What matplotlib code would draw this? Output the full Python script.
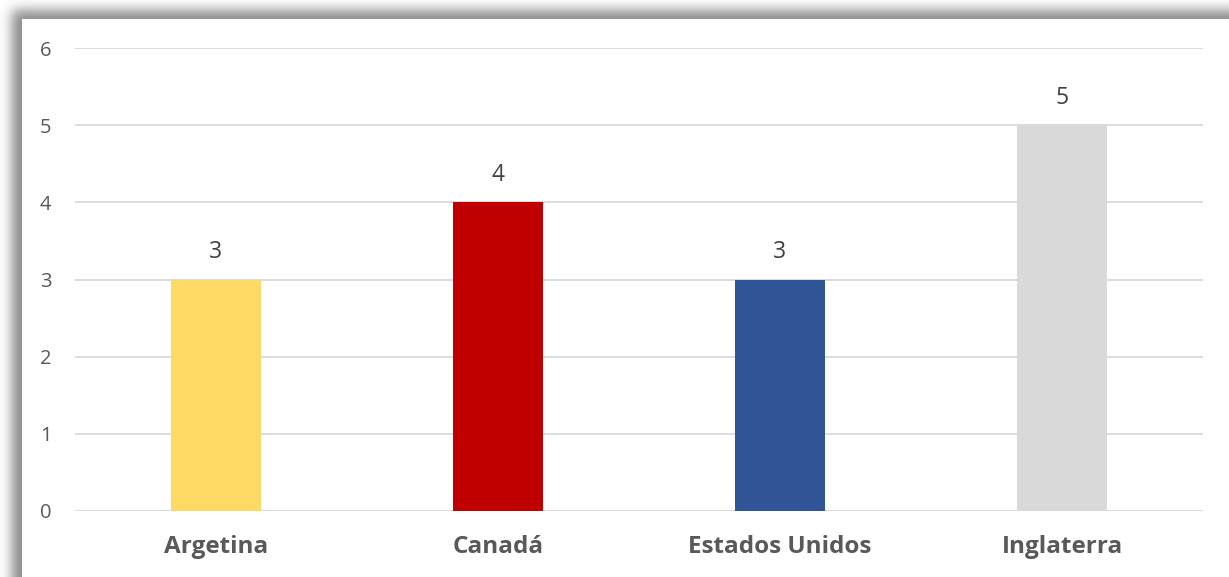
import matplotlib.pyplot as plt
import numpy as np

categories = ["Argetina", "Canadá", "Estados Unidos", "Inglaterra"]
values = [3, 4, 3, 5]
colors = ["#FFD966", "#C00000", "#2F5597", "#D9D9D9"]

plt.rcParams['font.family'] = ['Open Sans', 'DejaVu Sans']

W, H = 1229, 577
fig = plt.figure(figsize=(W / 100, H / 100), dpi=100)

# soft shadow behind the chart panel
bg = fig.add_axes([0, 0, 1, 1], zorder=0)
pad = 60
mask = np.zeros((H + 2 * pad, W + 2 * pad))
mask[pad + 10:, pad + 12:] = 1.0
k = np.exp(-0.5 * (np.arange(-18, 19) / 6.0) ** 2)
k /= k.sum()
mask = np.apply_along_axis(lambda r: np.convolve(r, k, mode="same"), 1, mask)
mask = np.apply_along_axis(lambda c: np.convolve(c, k, mode="same"), 0, mask)
mask = mask[pad:pad + H, pad:pad + W]
shade = 1.0 - 0.45 * mask
shade[19:, 22:] = 1.0
bg.imshow(shade, cmap="gray", vmin=0, vmax=1, aspect="auto", interpolation="bilinear")
bg.axis("off")

ax = fig.add_axes([75 / W, 66 / H, 1128 / W, 463 / H], zorder=1)
x = np.arange(len(categories))
bars = ax.bar(x, values, width=0.316, color=colors, zorder=2)

for b, v in zip(bars, values):
    ax.text(b.get_x() + b.get_width() / 2, v + 0.2, str(v), ha="center", va="bottom",
            fontsize=16.5, color="#404040")

ax.set_xlim(-0.5, 3.5)
ax.set_ylim(0, 6)
ax.set_yticks(range(0, 7))
ax.yaxis.grid(True, color="#D9D9D9", linewidth=1.3, zorder=0)
ax.set_axisbelow(True)
for s in ax.spines.values():
    s.set_visible(False)
ax.tick_params(axis="y", length=0, labelsize=14.5, labelcolor="#595959", pad=17)
ax.tick_params(axis="x", length=0, pad=17)
ax.set_xticks(x)
ax.set_xticklabels(categories, fontsize=17.5, fontweight="bold", color="#595959")

fig.savefig("out.png", dpi=100)
